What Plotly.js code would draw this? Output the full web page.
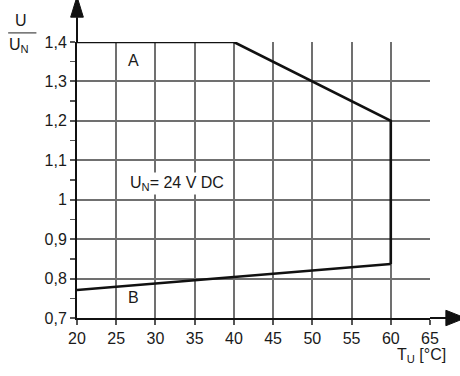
<!DOCTYPE html>
<html><head><meta charset="utf-8">
<script src="https://cdn.plot.ly/plotly-3.0.1.min.js"></script>
<style>html,body{margin:0;padding:0;background:#fff}#c{width:460px;height:376px}</style>
</head><body><div id="c"></div>
<script>
var tempA = [20, 40, 60, 60];
var ratioA = [1.4, 1.4, 1.2, 0.837];
var tempB = [20, 60];
var ratioB = [0.771, 0.837];
var xTicks = [20, 25, 30, 35, 40, 45, 50, 55, 60, 65];
var yTicks = [0.7, 0.8, 0.9, 1.0, 1.1, 1.2, 1.3, 1.4];
var yTickLabels = ["0,7", "0,8", "0,9", "1", "1,1", "1,2", "1,3", "1,4"];

var font = {family: "Liberation Sans, Arial, sans-serif", size: 16, color: "#1a1a1a"};
var traces = [
  {x: tempA, y: ratioA, mode: "lines", line: {color: "#111", width: 2.6}, hoverinfo: "none", cliponaxis: false},
  {x: tempB, y: ratioB, mode: "lines", line: {color: "#111", width: 2.6}, hoverinfo: "none", cliponaxis: false}
];
var layout = {
  width: 460, height: 376,
  margin: {l: 77, r: 30, t: 42, b: 58},
  showlegend: false,
  paper_bgcolor: "#fff", plot_bgcolor: "#fff",
  font: font,
  xaxis: {
    range: [20, 65], tickvals: xTicks, ticktext: xTicks.map(String),
    showgrid: true, gridcolor: "#707070", gridwidth: 2,
    showline: true, linecolor: "#111", linewidth: 2,
    ticks: "outside", ticklen: 5, tickcolor: "#555", tickwidth: 2,
    zeroline: false, tickfont: font, fixedrange: true
  },
  yaxis: {
    range: [0.7, 1.4], tickvals: yTicks, ticktext: yTickLabels,
    showgrid: true, gridcolor: "#707070", gridwidth: 2,
    showline: true, linecolor: "#111", linewidth: 2,
    ticks: "outside", ticklen: 5, tickcolor: "#555", tickwidth: 2,
    minor: {dtick: 0.05, ticks: "outside", ticklen: 5, tickcolor: "#555", tickwidth: 1.5, showgrid: false},
    zeroline: false, tickfont: font, fixedrange: true
  },
  shapes: [
    {type: "line", xref: "paper", yref: "paper", x0: 0, x1: 0, y0: 1, y1: 1.09, line: {color: "#111", width: 2}},
    {type: "path", xref: "paper", yref: "paper", path: "M -0.018 1.09 L 0.018 1.09 L 0 1.165 Z", fillcolor: "#111", line: {color: "#111", width: 1}},
    {type: "line", xref: "paper", yref: "paper", x0: 1, x1: 1.05, y0: 0, y1: 0, line: {color: "#111", width: 2}},
    {type: "path", xref: "paper", yref: "paper", path: "M 1.045 -0.028 L 1.045 0.028 L 1.1 0 Z", fillcolor: "#111", line: {color: "#111", width: 1}},
    {type: "line", xref: "paper", yref: "paper", x0: -0.195, x1: -0.115, y0: 1.033, y1: 1.033, line: {color: "#444", width: 1.2}}
  ],
  annotations: [
    {xref: "paper", yref: "paper", x: -0.16, y: 1.04, text: "U", showarrow: false, xanchor: "center", yanchor: "bottom", font: font},
    {xref: "paper", yref: "paper", x: -0.197, y: 1.03, text: "U<sub>N</sub>", showarrow: false, xanchor: "left", yanchor: "top", font: font},
    {xref: "paper", yref: "paper", x: 1.05, y: -0.095, text: "T<sub>U</sub> [°C]", showarrow: false, xanchor: "right", yanchor: "top", font: font},
    {x: 27.2, y: 1.353, text: "A", showarrow: false, font: font},
    {x: 27.2, y: 0.751, text: "B", showarrow: false, font: font},
    {x: 32.8, y: 1.042, text: "U<sub>N</sub>= 24 V DC", showarrow: false, font: font, bgcolor: "#fff"}
  ]
};
Plotly.newPlot("c", traces, layout, {displayModeBar: false, staticPlot: true});
</script></body></html>
